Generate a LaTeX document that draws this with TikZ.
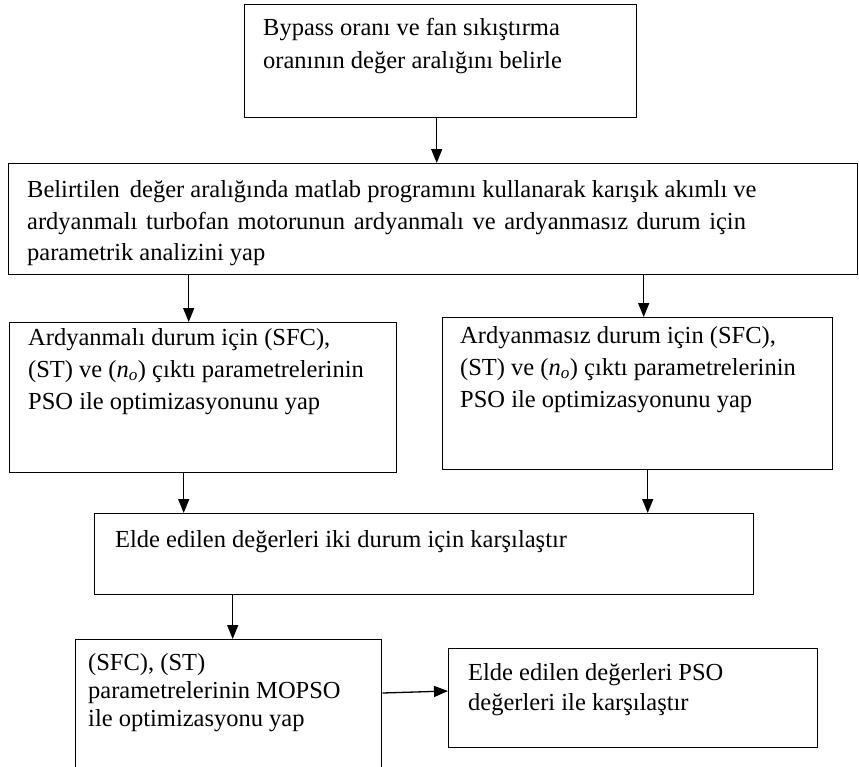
\documentclass[tikz,border=0pt]{standalone}
\usepackage{fontspec}
\setmainfont{Liberation Serif}
\usetikzlibrary{arrows.meta}
\tikzset{
  box/.style={draw, line width=1.4pt, rectangle, anchor=north west, inner sep=0pt},
  ln/.style={anchor=base west, inner sep=0pt, font=\fontsize{24.5}{30}\selectfont},
  arr/.style={line width=1.3pt, -{Triangle[length=14pt,width=11pt]}}
}
\newcommand{\nosub}{(\textit{n}\textsubscript{\textit{o}})}
\begin{document}
\begin{tikzpicture}[x=1pt,y=-1pt]
\useasboundingbox (0,0) rectangle (859,766);
\clip (0,0) rectangle (859,766);
% boxes
\node[box, minimum width=392pt, minimum height=113pt] (b1) at (244,4) {};
\node[box, minimum width=849pt, minimum height=111pt] (b2) at (8,163) {};
\node[box, minimum width=387pt, minimum height=150pt] (b3) at (9,322) {};
\node[box, minimum width=390pt, minimum height=152pt] (b4) at (442,317) {};
\node[box, minimum width=659pt, minimum height=81pt] (b5) at (94,513) {};
\node[box, minimum width=306pt, minimum height=160pt] (b6) at (75,639) {};
\node[box, minimum width=369pt, minimum height=99pt] (b7) at (448,648) {};
% texts
\node[ln] (t1a) at (263,35) {Bypass oranı ve fan sıkıştırma};
\node[ln] (t1b) at (263,68) {oranının değer aralığını belirle};
\node[ln] (t2a) at (27,197) {Belirtilen\hspace{4pt} değer aralığında matlab programını kullanarak karışık akımlı ve};
\node[ln] (t2b) at (27,229) {\spaceskip=8.6pt ardyanmalı turbofan motorunun ardyanmalı ve ardyanmasız durum için};
\node[ln] (t2c) at (27,260) {parametrik analizini yap};
\node[ln] (t3a) at (28,345) {Ardyanmalı durum için (SFC),};
\node[ln] (t3b) at (28,377) {(ST)\ ve \nosub\ çıktı parametrelerinin};
\node[ln] (t3c) at (28,409) {PSO ile optimizasyonunu yap};
\node[ln] (t4a) at (460,343) {Ardyanmasız durum için (SFC),};
\node[ln] (t4b) at (460,375) {(ST)\ ve \nosub\ çıktı parametrelerinin};
\node[ln] (t4c) at (460,407) {PSO ile optimizasyonunu yap};
\node[ln] (t5a) at (115,547) {Elde edilen değerleri iki\ durum için karşılaştır};
\node[ln] (t6a) at (88,670) {(SFC),\ (ST)};
\node[ln] (t6b) at (88,698) {parametrelerinin\ MOPSO};
\node[ln] (t6c) at (88,726) {ile optimizasyonu yap};
\node[ln] (t7a) at (468,680) {Elde edilen değerleri PSO};
\node[ln] (t7b) at (468,710) {değerleri ile karşılaştır};
% connectors
\draw[arr] ([xshift=-4pt]b1.south) -- ([xshift=-4pt]b1.south |- b2.north);
\draw[arr] ([xshift=-14.5pt]b3.north |- b2.south) -- ([xshift=-14.5pt]b3.north);
\draw[arr] ([xshift=6pt]b4.north |- b2.south) -- ([xshift=6pt]b4.north);
\draw[arr] ([xshift=-19.5pt]b3.south) -- ([xshift=-19.5pt]b3.south |- b5.north);
\draw[arr] ([xshift=10pt]b4.south) -- ([xshift=10pt]b4.south |- b5.north);
\draw[arr] ([xshift=4pt]b6.north |- b5.south) -- ([xshift=4pt]b6.north);
\draw[arr] ([yshift=-54pt]b6.north east) -- ([yshift=-43pt]b7.north west);
\end{tikzpicture}
\end{document}
